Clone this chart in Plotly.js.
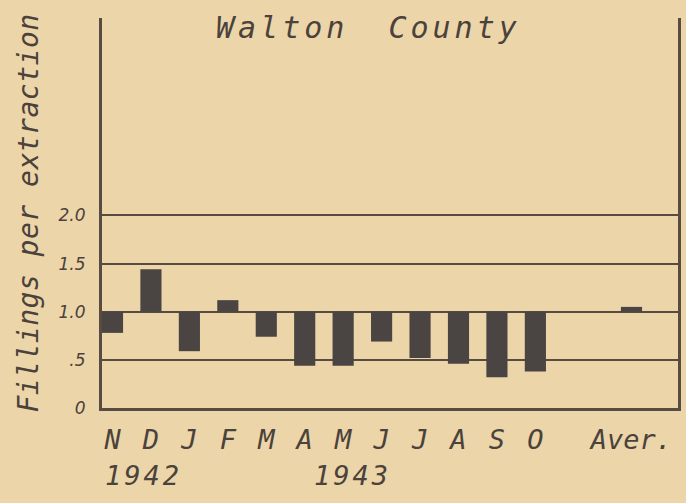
<!DOCTYPE html>
<html>
<head>
<meta charset="utf-8">
<script src="https://cdn.plot.ly/plotly-3.0.1.min.js"></script>
<style>
  html, body { margin: 0; padding: 0; background: #ECD5A9; }
  #chart { width: 686px; height: 503px; }
  .gtitle { letter-spacing: 4px; word-spacing: 18px; }
  .ytitle { letter-spacing: 0.5px; }
  .annotation-text { letter-spacing: 3px; }
</style>
</head>
<body>
<div id="chart"></div>
<script>
// ---- data ----
const months = ['N', 'D', 'J', 'F', 'M', 'A', 'M', 'J', 'J', 'A', 'S', 'O'];
const monthValues = [0.78, 1.44, 0.59, 1.12, 0.74, 0.44, 0.44, 0.69, 0.52, 0.46, 0.32, 0.38];
const averageLabel = 'Aver.';
const averageValue = 1.05;
const yearLabels = ['1942', '1943'];
const yTickValues = [0, 0.5, 1.0, 1.5, 2.0];
const yTickLabels = ['0', '.5', '1.0', '1.5', '2.0'];
const baseline = 1.0;

// ---- build ----
const xPos = months.map((m, i) => i);
const avgPos = months.length + 1.5;
const allX = xPos.concat([avgPos]);
const allVals = monthValues.concat([averageValue]);
const allLabels = months.concat([averageLabel]);

const ink = '#4a423b';
const lineCol = '#574b42';
const fontFam = '"DejaVu Sans Mono", monospace';

const trace = {
  type: 'bar',
  x: allX,
  y: allVals.map(v => v - baseline),
  base: allVals.map(() => baseline),
  width: 0.55,
  marker: { color: '#4a4542', line: { width: 0 } },
  hoverinfo: 'skip'
};

const layout = {
  width: 686,
  height: 503,
  margin: { l: 102, r: 8, t: 18, b: 95 },
  paper_bgcolor: '#ECD5A9',
  plot_bgcolor: '#ECD5A9',
  showlegend: false,
  font: { family: fontFam, color: ink, style: 'italic' },
  title: {
    text: 'Walton County',
    font: { family: fontFam, size: 30, color: ink, style: 'italic' },
    xref: 'container', x: 0.537, xanchor: 'center',
    yref: 'container', y: 0.945, yanchor: 'middle'
  },
  xaxis: {
    range: [-0.273, 14.71],
    tickvals: allX,
    ticktext: allLabels,
    ticks: '',
    showgrid: false,
    zeroline: false,
    showline: true,
    linecolor: lineCol,
    linewidth: 3,
    ticklabelstandoff: 6,
    tickfont: { family: fontFam, size: 27, color: ink, style: 'italic' }
  },
  yaxis: {
    range: [0, 4.05],
    tickvals: yTickValues,
    ticktext: yTickLabels,
    ticks: '',
    showgrid: true,
    gridcolor: lineCol,
    gridwidth: 2,
    zeroline: false,
    showline: true,
    mirror: true,
    linecolor: lineCol,
    linewidth: 3,
    ticklabelstandoff: 10,
    tickfont: { family: '"DejaVu Sans", sans-serif', size: 17, color: ink, style: 'italic' },
    title: {
      text: 'Fillings per extraction',
      font: { family: fontFam, size: 28, color: ink, style: 'italic' },
      standoff: 12
    }
  },
  annotations: [
    { text: yearLabels[0], x: 0.81, xref: 'x', y: -0.173, yref: 'paper', xanchor: 'center', yanchor: 'middle',
      showarrow: false, font: { family: fontFam, size: 27, color: ink, style: 'italic' } },
    { text: yearLabels[1], x: 6.25, xref: 'x', y: -0.173, yref: 'paper', xanchor: 'center', yanchor: 'middle',
      showarrow: false, font: { family: fontFam, size: 27, color: ink, style: 'italic' } }
  ]
};

Plotly.newPlot('chart', [trace], layout, { staticPlot: true, displayModeBar: false });
</script>
</body>
</html>
